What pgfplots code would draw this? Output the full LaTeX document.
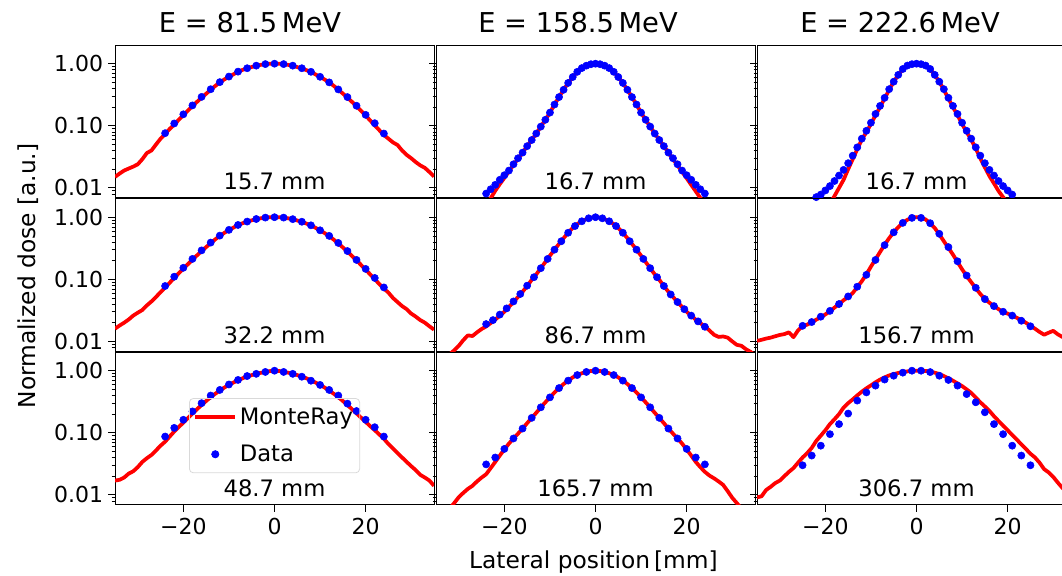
\documentclass[border=0pt]{standalone}
\usepackage{fontspec}
\setmainfont{DejaVu Sans}
\usepackage{pgfplots}
\pgfplotsset{compat=1.18}
\newcommand\tickfont{\fontsize{16.5}{19}\selectfont}
\newcommand\annfont{\fontsize{17}{20}\selectfont}
\newcommand\labfont{\fontsize{17.5}{21}\selectfont}
\newcommand\titfont{\fontsize{20.5}{24}\selectfont}
\pgfplotsset{
  every axis/.append style={
    anchor=south west, scale only axis, width=239.25pt, height=114.375pt,
    xmin=-35, xmax=35, ymin=0.007, ymax=2,
    ytick={0.01,0.1,1}, yticklabels={0.01,0.10,1.00},
    minor ytick={0.008,0.009,0.02,0.03,0.04,0.05,0.06,0.07,0.08,0.09,0.2,0.3,0.4,0.5,0.6,0.7,0.8,0.9},
    xtick={-20,0,20}, xticklabels={−20,0,20},
    tick align=outside, ytick pos=left, xtick pos=bottom,
    major tick length=5.25pt, minor tick length=2.6pt,
    major tick style={black, line width=0.6pt},
    minor tick style={black, line width=0.45pt},
    axis line style={black, line width=0.6pt},
    tick label style={font=\tickfont},
    yticklabel style={inner sep=0pt, anchor=east, xshift=-3.5pt},
    xticklabel style={inner sep=0pt, anchor=north, yshift=-5pt},
  },
  mc/.style={color=red, line width=2.8pt, line join=round, mark=none},
  dt/.style={only marks, mark=*, mark size=2.7pt, color=blue, mark options={draw=blue, fill=blue}},
  mcleg/.style={legend image code/.code={\draw[##1] (0pt,0pt) -- (30pt,0pt);}},
  dtleg/.style={legend image code/.code={\draw[mark repeat=1,mark phase=1,##1] plot coordinates {(15pt,0pt)};}},
}
\begin{document}
\begin{tikzpicture}
% ---------------- Row 1 ----------------
\begin{semilogyaxis}[xtick=\empty, at={(86.25pt,-148.125pt)}]
\addplot[mc] coordinates {(-35,0.0150)(-34,0.0170)(-33,0.0190)(-32,0.0205)(-31,0.0220)(-30,0.0240)(-29,0.0290)(-28,0.0365)(-27,0.0400)(-26,0.0500)(-25,0.0620)(-24,0.0740)(-23,0.0890)(-22,0.1050)(-21,0.1250)(-20,0.1490)(-19,0.1760)(-18,0.2080)(-17,0.2430)(-16,0.2850)(-15,0.3280)(-14,0.3800)(-13,0.4380)(-12,0.5000)(-11,0.5580)(-10,0.6150)(-9,0.6750)(-8,0.7400)(-7,0.7950)(-6,0.8400)(-5,0.8850)(-4,0.9250)(-3,0.9600)(-2,0.9850)(-1,0.9970)(0,1.0)(1,0.997)(2,0.985)(3,0.958)(4,0.922)(5,0.882)(6,0.835)(7,0.788)(8,0.735)(9,0.672)(10,0.612)(11,0.556)(12,0.500)(13,0.440)(14,0.382)(15,0.330)(16,0.286)(17,0.243)(18,0.206)(19,0.174)(20,0.146)(21,0.122)(22,0.101)(23,0.085)(24,0.071)(25,0.062)(26,0.054)(27,0.049)(28,0.040)(29,0.034)(30,0.030)(31,0.026)(32,0.023)(33,0.021)(34,0.018)(35,0.0152)};
\addplot[dt] coordinates {(-24,0.076)(-22,0.109)(-20,0.153)(-18,0.213)(-16,0.292)(-14,0.388)(-12,0.505)(-10,0.62)(-8,0.745)(-6,0.845)(-4,0.93)(-2,0.985)(0,1.0)(2,0.985)(4,0.93)(6,0.845)(8,0.74)(10,0.615)(12,0.50)(14,0.385)(16,0.29)(18,0.21)(20,0.15)(22,0.11)(24,0.075)};
\node[font=\annfont, anchor=base, yshift=5.8pt] at (rel axis cs:0.5,0) {15.7 mm};
\end{semilogyaxis}
\begin{semilogyaxis}[xtick=\empty, yticklabels={,,}, at={(327pt,-148.125pt)}]
\addplot[mc] coordinates {(-26,0.0035)(-25,0.0042)(-24,0.0050)(-23,0.0068)(-22,0.0090)(-21,0.0115)(-20,0.0145)(-19,0.0185)(-18,0.0235)(-17,0.0295)(-16,0.0370)(-15,0.0470)(-14,0.0590)(-13,0.0750)(-12,0.0970)(-11,0.1250)(-10,0.1630)(-9,0.2200)(-8,0.2900)(-7,0.3800)(-6,0.4900)(-5,0.6100)(-4,0.7400)(-3,0.8500)(-2,0.9300)(-1,0.9800)(0,1.0)(1,0.98)(2,0.93)(3,0.85)(4,0.74)(5,0.61)(6,0.49)(7,0.38)(8,0.29)(9,0.22)(10,0.163)(11,0.125)(12,0.097)(13,0.075)(14,0.059)(15,0.047)(16,0.037)(17,0.029)(18,0.0230)(19,0.0182)(20,0.0143)(21,0.0112)(22,0.0088)(23,0.0069)(24,0.0054)(25,0.0043)(26,0.0035)};
\addplot[dt] coordinates {(-24,0.0081)(-23,0.0095)(-22,0.0112)(-21,0.0135)(-20,0.016)(-19,0.019)(-18,0.024)(-17,0.030)(-16,0.037)(-15,0.047)(-14,0.059)(-13,0.075)(-12,0.097)(-11,0.125)(-10,0.163)(-9,0.22)(-8,0.29)(-7,0.38)(-6,0.49)(-5,0.61)(-4,0.74)(-3,0.85)(-2,0.93)(-1,0.98)(0,1.0)(1,0.98)(2,0.93)(3,0.85)(4,0.74)(5,0.61)(6,0.49)(7,0.38)(8,0.29)(9,0.22)(10,0.163)(11,0.125)(12,0.097)(13,0.075)(14,0.059)(15,0.047)(16,0.037)(17,0.030)(18,0.024)(19,0.019)(20,0.016)(21,0.0135)(22,0.0112)(23,0.0095)(24,0.0081)};
\node[font=\annfont, anchor=base, yshift=5.8pt] at (rel axis cs:0.5,0) {16.7 mm};
\end{semilogyaxis}
\begin{semilogyaxis}[xtick=\empty, yticklabels={,,}, at={(567.75pt,-148.125pt)}]
\addplot[mc] coordinates {(-21,0.0040)(-20,0.0050)(-19,0.0056)(-18,0.0074)(-17,0.0100)(-16,0.0135)(-15,0.0200)(-14,0.0290)(-13,0.0420)(-12,0.0600)(-11,0.0790)(-10,0.1070)(-9,0.1480)(-8,0.2000)(-7,0.2750)(-6,0.3800)(-5,0.5130)(-4,0.6610)(-3,0.8130)(-2,0.9330)(-1,0.9820)(0,1.0)(1,0.982)(2,0.933)(3,0.813)(4,0.661)(5,0.513)(6,0.380)(7,0.275)(8,0.200)(9,0.148)(10,0.107)(11,0.079)(12,0.060)(13,0.043)(14,0.030)(15,0.0214)(16,0.0155)(17,0.0118)(18,0.0089)(19,0.0071)(20,0.0056)(21,0.0045)};
\addplot[dt] coordinates {(-22,0.0071)(-21,0.0078)(-20,0.0091)(-19,0.0107)(-18,0.0129)(-17,0.0158)(-16,0.0195)(-15,0.025)(-14,0.033)(-13,0.045)(-12,0.062)(-11,0.083)(-10,0.112)(-9,0.155)(-8,0.209)(-7,0.282)(-6,0.389)(-5,0.513)(-4,0.661)(-3,0.822)(-2,0.933)(-1,0.982)(0,1.0)(1,0.982)(2,0.933)(3,0.822)(4,0.661)(5,0.513)(6,0.389)(7,0.282)(8,0.209)(9,0.155)(10,0.112)(11,0.083)(12,0.062)(13,0.045)(14,0.033)(15,0.025)(16,0.0195)(17,0.0158)(18,0.0129)(19,0.0107)(20,0.0091)(21,0.0078)};
\node[font=\annfont, anchor=base, yshift=5.8pt] at (rel axis cs:0.5,0) {16.7 mm};
\end{semilogyaxis}
% ---------------- Row 2 ----------------
\begin{semilogyaxis}[xtick=\empty, at={(86.25pt,-263.25pt)}]
\addplot[mc] coordinates {(-35,0.0160)(-34,0.0180)(-33,0.0200)(-32,0.0225)(-31,0.0260)(-30,0.0290)(-29,0.0320)(-28,0.0380)(-27,0.0440)(-26,0.0520)(-25,0.0620)(-24,0.0740)(-23,0.0880)(-22,0.1050)(-21,0.1250)(-20,0.1480)(-19,0.1750)(-18,0.2070)(-17,0.2430)(-16,0.2850)(-15,0.3300)(-14,0.3820)(-13,0.4400)(-12,0.5000)(-11,0.5600)(-10,0.6200)(-9,0.6800)(-8,0.7450)(-7,0.8000)(-6,0.8500)(-5,0.8900)(-4,0.9300)(-3,0.9620)(-2,0.9860)(-1,0.9970)(0,1.0)(1,0.997)(2,0.986)(3,0.96)(4,0.925)(5,0.885)(6,0.84)(7,0.79)(8,0.735)(9,0.675)(10,0.615)(11,0.555)(12,0.495)(13,0.435)(14,0.378)(15,0.326)(16,0.280)(17,0.238)(18,0.202)(19,0.170)(20,0.143)(21,0.120)(22,0.100)(23,0.084)(24,0.071)(25,0.061)(26,0.050)(27,0.043)(28,0.037)(29,0.033)(30,0.028)(31,0.025)(32,0.022)(33,0.020)(34,0.0175)(35,0.0155)};
\addplot[dt] coordinates {(-24,0.078)(-22,0.110)(-20,0.153)(-18,0.213)(-16,0.292)(-14,0.390)(-12,0.505)(-10,0.625)(-8,0.75)(-6,0.85)(-4,0.935)(-2,0.985)(0,1.0)(2,0.985)(4,0.93)(6,0.845)(8,0.74)(10,0.615)(12,0.50)(14,0.385)(16,0.285)(18,0.205)(20,0.147)(22,0.105)(24,0.074)};
\node[font=\annfont, anchor=base, yshift=5.8pt] at (rel axis cs:0.5,0) {32.2 mm};
\end{semilogyaxis}
\begin{semilogyaxis}[xtick=\empty, yticklabels={,,}, at={(327pt,-263.25pt)}]
\addplot[mc] coordinates {(-35,0.0040)(-34,0.0045)(-33,0.0052)(-32,0.0062)(-31,0.0072)(-30,0.0085)(-29,0.0105)(-28,0.0125)(-27,0.0122)(-26,0.0140)(-25,0.0158)(-24,0.0174)(-23,0.0197)(-22,0.0224)(-21,0.026)(-20,0.030)(-19,0.036)(-18,0.043)(-17,0.052)(-16,0.063)(-15,0.078)(-14,0.098)(-13,0.12)(-12,0.151)(-11,0.19)(-10,0.24)(-9,0.30)(-8,0.372)(-7,0.46)(-6,0.562)(-5,0.67)(-4,0.776)(-3,0.86)(-2,0.933)(-1,0.98)(0,1.0)(1,0.98)(2,0.933)(3,0.86)(4,0.776)(5,0.67)(6,0.562)(7,0.46)(8,0.372)(9,0.30)(10,0.24)(11,0.19)(12,0.151)(13,0.12)(14,0.098)(15,0.078)(16,0.063)(17,0.052)(18,0.043)(19,0.036)(20,0.030)(21,0.026)(22,0.0224)(23,0.0197)(24,0.0174)(25,0.0150)(26,0.0128)(27,0.0118)(28,0.0120)(29,0.0115)(30,0.0100)(31,0.0088)(32,0.0085)(33,0.0075)(34,0.0068)(35,0.0060)};
\addplot[dt] coordinates {(-24,0.019)(-22.5,0.022)(-21,0.027)(-19.5,0.034)(-18,0.044)(-16.5,0.058)(-15,0.079)(-13.5,0.108)(-12,0.151)(-10.5,0.213)(-9,0.30)(-7.5,0.41)(-6,0.562)(-4.5,0.72)(-3,0.86)(-1.5,0.96)(0,1.0)(1.5,0.96)(3,0.86)(4.5,0.72)(6,0.562)(7.5,0.41)(9,0.30)(10.5,0.213)(12,0.151)(13.5,0.108)(15,0.078)(16.5,0.057)(18,0.043)(19.5,0.033)(21,0.026)(22.5,0.021)(24,0.0172)};
\node[font=\annfont, anchor=base, yshift=5.8pt] at (rel axis cs:0.5,0) {86.7 mm};
\end{semilogyaxis}
\begin{semilogyaxis}[xtick=\empty, yticklabels={,,}, at={(567.75pt,-263.25pt)}]
\addplot[mc] coordinates {(-35,0.0102)(-34,0.0106)(-33,0.0111)(-32,0.0115)(-31,0.0121)(-30,0.0127)(-29,0.0131)(-28,0.0140)(-27,0.0117)(-26,0.0150)(-25,0.0176)(-24,0.0186)(-23,0.0203)(-22,0.0224)(-21,0.0245)(-20,0.0272)(-19,0.0305)(-18,0.0350)(-17,0.0400)(-16,0.0460)(-15,0.0520)(-14,0.0600)(-13,0.0750)(-12,0.0930)(-11,0.1200)(-10,0.1600)(-9,0.2100)(-8,0.2750)(-7,0.3600)(-6,0.4600)(-5,0.5750)(-4,0.6900)(-3,0.8100)(-2,0.9100)(-1,0.9750)(0,1.0)(1,0.98)(2,0.92)(3,0.80)(4,0.67)(5,0.53)(6,0.41)(7,0.32)(8,0.25)(9,0.19)(10,0.145)(11,0.113)(12,0.090)(13,0.072)(14,0.058)(15,0.048)(16,0.042)(17,0.037)(18,0.033)(19,0.030)(20,0.028)(21,0.026)(22,0.024)(23,0.022)(24,0.020)(25,0.0178)(26,0.016)(27,0.0142)(28,0.0128)(29,0.0138)(30,0.0148)(31,0.013)(32,0.0118)(33,0.0112)(34,0.0104)(35,0.0098)};
\addplot[dt] coordinates {(-25,0.0178)(-23,0.0205)(-21,0.025)(-19,0.031)(-17,0.040)(-15,0.053)(-13,0.076)(-11,0.118)(-9,0.205)(-7,0.355)(-5,0.57)(-3,0.81)(-1,0.975)(1,0.975)(3,0.80)(5,0.54)(7,0.33)(9,0.195)(11,0.115)(13,0.073)(15,0.048)(17,0.037)(19,0.030)(21,0.026)(23,0.0215)(25,0.0175)};
\node[font=\annfont, anchor=base, yshift=5.8pt] at (rel axis cs:0.5,0) {156.7 mm};
\end{semilogyaxis}
% ---------------- Row 3 ----------------
\begin{semilogyaxis}[at={(86.25pt,-378.375pt)},
  legend style={at={(0.232,0.698)}, anchor=north west, draw=black!15, line width=0.6pt,
    rounded corners=3pt, fill=none,
    font=\annfont, inner xsep=3pt, inner ysep=5pt, row sep=10pt, cells={anchor=west}}]
\addplot[mc, mcleg] coordinates {(-35,0.017)(-34,0.0175)(-33,0.019)(-32,0.022)(-31,0.024)(-30,0.028)(-29,0.034)(-28,0.039)(-27,0.044)(-26,0.052)(-25,0.062)(-24,0.072)(-23,0.087)(-22,0.105)(-21,0.124)(-20,0.146)(-19,0.172)(-18,0.204)(-17,0.240)(-16,0.280)(-15,0.325)(-14,0.375)(-13,0.425)(-12,0.480)(-11,0.535)(-10,0.590)(-9,0.645)(-8,0.700)(-7,0.755)(-6,0.805)(-5,0.850)(-4,0.890)(-3,0.925)(-2,0.955)(-1,0.985)(0,1.0)(1,0.99)(2,0.96)(3,0.93)(4,0.89)(5,0.85)(6,0.805)(7,0.755)(8,0.70)(9,0.645)(10,0.59)(11,0.535)(12,0.48)(13,0.425)(14,0.375)(15,0.325)(16,0.28)(17,0.24)(18,0.205)(19,0.175)(20,0.150)(21,0.128)(22,0.110)(23,0.094)(24,0.080)(25,0.066)(26,0.056)(27,0.047)(28,0.040)(29,0.034)(30,0.029)(31,0.025)(32,0.021)(33,0.019)(34,0.017)(35,0.014)};
\addlegendentry{MonteRay}
\addplot[dt, dtleg] coordinates {(-24,0.087)(-22,0.120)(-20,0.162)(-18,0.221)(-16,0.30)(-14,0.398)(-12,0.49)(-10,0.60)(-8,0.71)(-6,0.82)(-4,0.89)(-2,0.955)(0,1.0)(2,0.955)(4,0.89)(6,0.80)(8,0.69)(10,0.59)(12,0.49)(14,0.398)(16,0.295)(18,0.224)(20,0.162)(22,0.123)(24,0.087)};
\addlegendentry{Data}
\node[font=\annfont, anchor=base, yshift=5.8pt] at (rel axis cs:0.5,0) {48.7 mm};
\end{semilogyaxis}
\begin{semilogyaxis}[yticklabels={,,}, at={(327pt,-378.375pt)}]
\addplot[mc] coordinates {(-35,0.0040)(-34,0.0045)(-33,0.0052)(-32,0.0060)(-31,0.0074)(-30,0.0092)(-29,0.0108)(-28,0.0125)(-27,0.0140)(-26,0.0165)(-25,0.0190)(-24,0.0215)(-23,0.027)(-22,0.034)(-21,0.043)(-20,0.054)(-19,0.067)(-18,0.081)(-17,0.097)(-16,0.117)(-15,0.143)(-14,0.174)(-13,0.21)(-12,0.257)(-11,0.31)(-10,0.372)(-9,0.445)(-8,0.525)(-7,0.61)(-6,0.692)(-5,0.78)(-4,0.851)(-3,0.91)(-2,0.955)(-1,0.99)(0,1.0)(1,0.99)(2,0.955)(3,0.91)(4,0.851)(5,0.78)(6,0.692)(7,0.61)(8,0.525)(9,0.445)(10,0.372)(11,0.31)(12,0.257)(13,0.21)(14,0.174)(15,0.143)(16,0.117)(17,0.097)(18,0.081)(19,0.067)(20,0.054)(21,0.043)(22,0.034)(23,0.028)(24,0.0235)(25,0.0205)(26,0.0185)(27,0.0165)(28,0.0145)(29,0.0115)(30,0.0090)(31,0.0074)(32,0.0060)(33,0.0052)(34,0.0045)(35,0.0040)};
\addplot[dt] coordinates {(-24,0.031)(-22,0.040)(-20,0.055)(-18,0.081)(-16,0.117)(-14,0.174)(-12,0.257)(-10,0.372)(-8,0.525)(-6,0.692)(-4,0.851)(-2,0.955)(0,1.0)(2,0.955)(4,0.851)(6,0.692)(8,0.525)(10,0.372)(12,0.257)(14,0.174)(16,0.117)(18,0.081)(20,0.055)(22,0.040)(24,0.031)};
\node[font=\annfont, anchor=base, yshift=5.8pt] at (rel axis cs:0.5,0) {165.7 mm};
\end{semilogyaxis}
\begin{semilogyaxis}[yticklabels={,,}, at={(567.75pt,-378.375pt)}]
\addplot[mc] coordinates {(-35,0.0091)(-34,0.0095)(-33,0.0120)(-32,0.0135)(-31,0.0155)(-30,0.017)(-29,0.020)(-28,0.0235)(-27,0.027)(-26,0.033)(-25,0.040)(-24,0.047)(-23,0.057)(-22,0.074)(-21,0.09)(-20,0.11)(-19,0.138)(-18,0.165)(-17,0.20)(-16,0.255)(-15,0.30)(-14,0.345)(-13,0.40)(-12,0.46)(-11,0.52)(-10,0.58)(-9,0.65)(-8,0.72)(-7,0.78)(-6,0.84)(-5,0.88)(-4,0.92)(-3,0.95)(-2,0.975)(-1,0.99)(0,1.0)(1,1.0)(2,0.99)(3,0.965)(4,0.93)(5,0.885)(6,0.82)(7,0.755)(8,0.69)(9,0.625)(10,0.565)(11,0.50)(12,0.44)(13,0.37)(14,0.31)(15,0.265)(16,0.225)(17,0.185)(18,0.155)(19,0.13)(20,0.11)(21,0.092)(22,0.078)(23,0.065)(24,0.055)(25,0.046)(26,0.040)(27,0.033)(28,0.026)(29,0.023)(30,0.0195)(31,0.0158)(32,0.013)(33,0.011)(34,0.0092)(35,0.0078)};
\addplot[dt] coordinates {(-25,0.030)(-23,0.043)(-21,0.062)(-19,0.095)(-17,0.138)(-15,0.204)(-13,0.33)(-11,0.447)(-9,0.575)(-7,0.72)(-5,0.83)(-3,0.93)(-1,1.0)(1,1.0)(3,0.95)(5,0.83)(7,0.71)(9,0.575)(11,0.42)(13,0.31)(15,0.214)(17,0.138)(19,0.095)(21,0.062)(23,0.043)(25,0.030)};
\node[font=\annfont, anchor=base, yshift=5.8pt] at (rel axis cs:0.5,0) {306.7 mm};
\end{semilogyaxis}
% ---------------- Labels ----------------
\node[font=\titfont, anchor=base] at (187.5pt,-24pt) {E = 81.5\,MeV};
\node[font=\titfont, anchor=base] at (433.5pt,-24pt) {E = 158.5\,MeV};
\node[font=\titfont, anchor=base] at (675pt,-24pt) {E = 222.6\,MeV};
\node[font=\labfont, rotate=90, anchor=center] at (21pt,-207pt) {Normalized dose [a.u.]};
\node[font=\labfont, anchor=base] at (445.1pt,-426pt) {Lateral position\,[mm]};
\pgfresetboundingbox
\useasboundingbox (0pt,0pt) rectangle (796.5pt,-431.25pt);
\end{tikzpicture}
\end{document}
